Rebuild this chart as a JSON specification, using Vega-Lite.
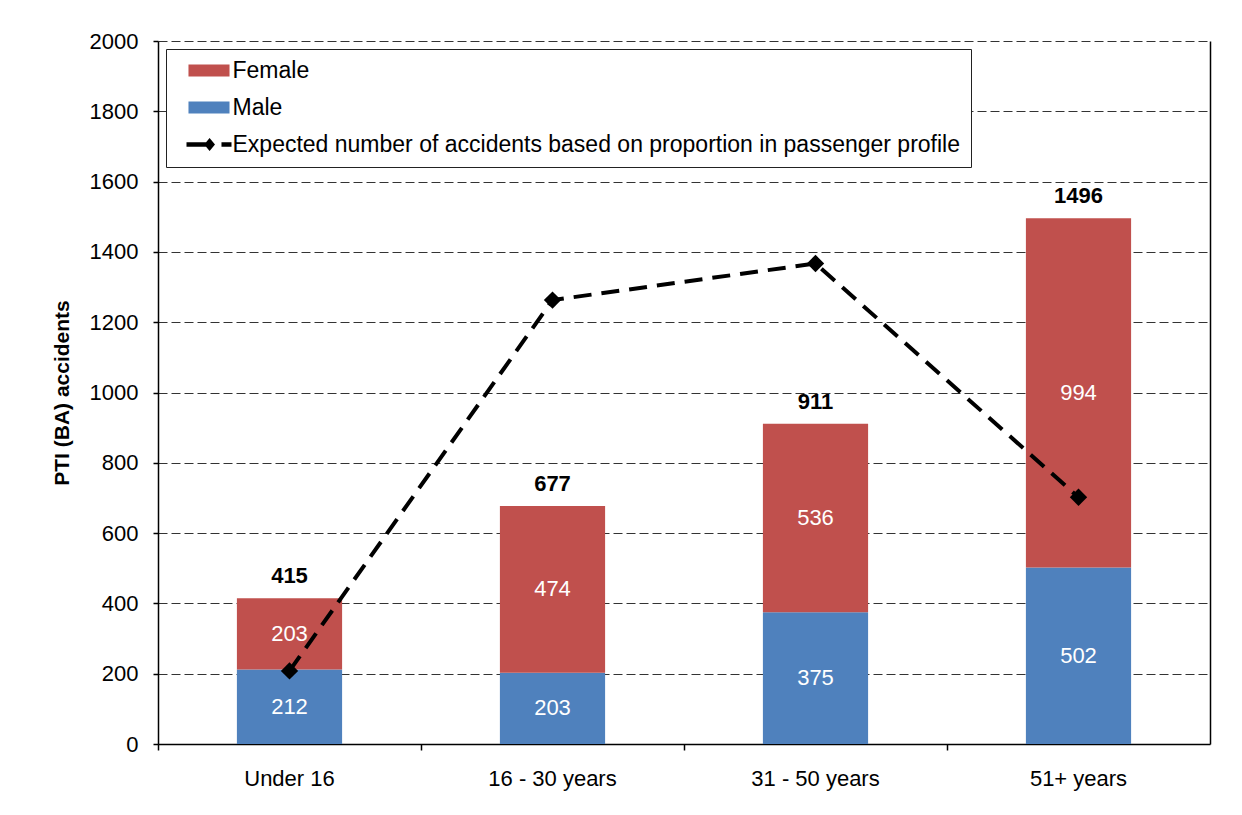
{
  "$schema": "https://vega.github.io/schema/vega-lite/v6.json",
  "width": 1052,
  "height": 703,
  "autosize": "none",
  "padding": {"left": 158, "top": 41, "right": 32, "bottom": 71},
  "background": "white",
  "config": {
    "font": "Liberation Sans",
    "view": {"stroke": null},
    "axis": {"labelFont": "Liberation Sans", "titleFont": "Liberation Sans", "labelColor": "black", "titleColor": "black"}
  },
  "datasets": {
    "bars": [
      {"age": "Under 16", "sex": "Male", "value": 212},
      {"age": "Under 16", "sex": "Female", "value": 203},
      {"age": "16 - 30 years", "sex": "Male", "value": 203},
      {"age": "16 - 30 years", "sex": "Female", "value": 474},
      {"age": "31 - 50 years", "sex": "Male", "value": 375},
      {"age": "31 - 50 years", "sex": "Female", "value": 536},
      {"age": "51+ years", "sex": "Male", "value": 502},
      {"age": "51+ years", "sex": "Female", "value": 994}
    ],
    "expected": [
      {"age": "Under 16", "expected": 208},
      {"age": "16 - 30 years", "expected": 1263},
      {"age": "31 - 50 years", "expected": 1367},
      {"age": "51+ years", "expected": 702}
    ]
  },
  "resolve": {"axis": {"y": "independent"}},
  "layer": [
    {
      "data": {"name": "bars"},
      "mark": {"type": "bar", "width": {"band": 0.4}},
      "encoding": {
        "x": {
          "field": "age", "type": "nominal",
          "sort": ["Under 16", "16 - 30 years", "31 - 50 years", "51+ years"],
          "scale": {"paddingInner": 0, "paddingOuter": 0},
          "axis": {
            "title": null, "bandPosition": 0, "labelAngle": 0,
            "labelFontSize": 22, "labelPadding": 18, "tickSize": 6, "tickColor": "black", "tickWidth": 1.5,
            "domainColor": "black", "domainWidth": 1.5, "grid": false, "labelOverlap": false, "labelBound": false, "labelFlush": false
          }
        },
        "y": {
          "field": "value", "type": "quantitative", "stack": "zero",
          "scale": {"domain": [0, 2000], "nice": false},
          "axis": {
            "title": "PTI (BA) accidents", "titleFontSize": 21, "titleFontWeight": "bold", "titlePadding": 17,
            "values": [0, 200, 400, 600, 800, 1000, 1200, 1400, 1600, 1800, 2000], "format": "d",
            "labelFontSize": 22, "labelPadding": 15, "tickSize": 5, "tickColor": "black", "tickWidth": 1.5,
            "domainColor": "black", "domainWidth": 1.5,
            "grid": true, "gridColor": "#333333", "gridDash": [9, 4], "gridWidth": 1
          }
        },
        "color": {
          "field": "sex", "type": "nominal",
          "scale": {
            "domain": ["Female", "Male", "Expected number of accidents based on proportion in passenger profile"],
            "range": ["#C0504D", "#4F81BD", "#000000"]
          },
          "legend": {
            "orient": "none", "legendX": 8, "legendY": 8, "title": null, "direction": "vertical",
            "labelFontSize": 23, "labelColor": "black", "labelLimit": 1000, "labelOffset": 12,
            "symbolSize": 144, "symbolOffset": 21.5, "rowPadding": 13, "padding": 10,
            "strokeColor": "#222222", "fillColor": "white", "cornerRadius": 0,
            "encode": {
              "symbols": {
                "update": {
                  "shape": {"signal": "datum.value === 'Expected number of accidents based on proportion in passenger profile' ? 'M-3.75,-0.37H-0.33V0.37H-3.75Z M0.1,-1.1L1,0L0.1,1.1L-0.8,0Z M2.08,-0.37H3.75V0.37H2.08Z' : 'M-3.42,-1H3.42V1H-3.42Z'"},
                  "fill": {"signal": "scale('color', datum.value)"},
                  "strokeWidth": {"value": 0},
                  "opacity": {"value": 1}
                }
              }
            }
          }
        },
        "order": {"field": "sex", "sort": "descending"}
      }
    },
    {
      "data": {"name": "bars"},
      "mark": {"type": "text", "color": "white", "fontSize": 22, "baseline": "middle"},
      "encoding": {
        "x": {"field": "age", "type": "nominal", "sort": ["Under 16", "16 - 30 years", "31 - 50 years", "51+ years"]},
        "y": {"field": "value", "type": "quantitative", "stack": "zero", "bandPosition": 0.5, "axis": null},
        "detail": {"field": "sex"},
        "order": {"field": "sex", "sort": "descending"},
        "text": {"field": "value", "type": "quantitative"}
      }
    },
    {
      "data": {"name": "bars"},
      "mark": {"type": "text", "color": "black", "fontSize": 22, "fontWeight": "bold", "baseline": "alphabetic", "dy": -15},
      "encoding": {
        "x": {"field": "age", "type": "nominal", "sort": ["Under 16", "16 - 30 years", "31 - 50 years", "51+ years"]},
        "y": {"aggregate": "sum", "field": "value", "type": "quantitative", "axis": null},
        "text": {"aggregate": "sum", "field": "value", "type": "quantitative"}
      }
    },
    {
      "data": {"name": "expected"},
      "mark": {"type": "line", "strokeWidth": 4, "strokeDash": [18, 10]},
      "encoding": {
        "x": {"field": "age", "type": "nominal", "sort": ["Under 16", "16 - 30 years", "31 - 50 years", "51+ years"]},
        "y": {
          "field": "expected", "type": "quantitative",
          "axis": {"orient": "right", "labels": false, "ticks": false, "grid": false, "title": null, "domainColor": "black", "domainWidth": 1.5}
        },
        "color": {"datum": "Expected number of accidents based on proportion in passenger profile"}
      }
    },
    {
      "data": {"name": "expected"},
      "mark": {"type": "point", "shape": "diamond", "filled": true, "size": 300, "opacity": 1},
      "encoding": {
        "x": {"field": "age", "type": "nominal", "sort": ["Under 16", "16 - 30 years", "31 - 50 years", "51+ years"]},
        "y": {"field": "expected", "type": "quantitative", "axis": null},
        "color": {"datum": "Expected number of accidents based on proportion in passenger profile"}
      }
    }
  ]
}
